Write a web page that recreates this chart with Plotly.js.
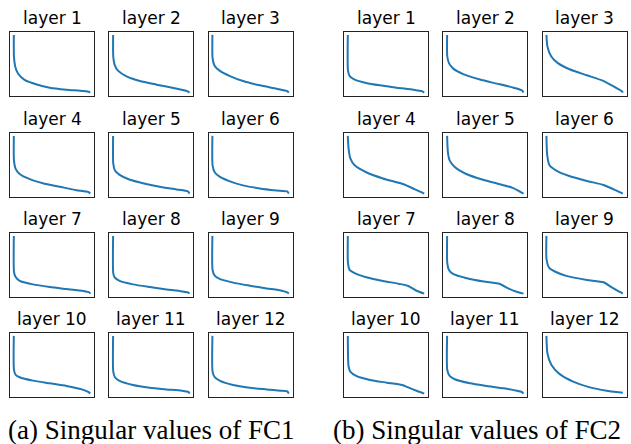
<!DOCTYPE html>
<html>
<head>
<meta charset="utf-8">
<script src="https://cdn.plot.ly/plotly-3.0.1.min.js"></script>
<style>
html,body{margin:0;padding:0;background:#fff;}
#chart{width:631px;height:444px;}
</style>
</head>
<body>
<div id="chart"></div>
<script>
// Normalised singular-value curves (index fraction, value fraction).
const layerNames = ["layer 1","layer 2","layer 3","layer 4","layer 5","layer 6","layer 7","layer 8","layer 9","layer 10","layer 11","layer 12"];
const captions = ["(a) Singular values of FC1", "(b) Singular values of FC2"];

// FC1
const fc1_l1_x = [0,0.002,0.019,0.055,0.14,0.30,0.47,0.69,0.91,0.99,1];
const fc1_l1_y = [1,0.62,0.45,0.33,0.22,0.14,0.085,0.05,0.026,0.009,0];
const fc1_l2_x = [0,0.002,0.02,0.064,0.17,0.35,0.57,0.79,0.97,1];
const fc1_l2_y = [1,0.62,0.48,0.38,0.285,0.20,0.138,0.08,0.026,0];
const fc1_l3_x = [0,0.002,0.03,0.094,0.23,0.40,0.62,0.84,0.98,1];
const fc1_l3_y = [1,0.60,0.46,0.38,0.285,0.20,0.126,0.068,0.026,0];
const fc1_l4_x = [0,0.002,0.024,0.076,0.21,0.38,0.60,0.82,0.98,1];
const fc1_l4_y = [1,0.575,0.43,0.34,0.25,0.18,0.12,0.06,0.026,0];
const fc1_l5_x = [0,0.002,0.024,0.085,0.22,0.39,0.61,0.83,0.98,1];
const fc1_l5_y = [1,0.52,0.40,0.325,0.24,0.18,0.12,0.073,0.038,0];
const fc1_l6_x = [0,0.002,0.03,0.094,0.23,0.40,0.62,0.84,0.98,1];
const fc1_l6_y = [1,0.49,0.37,0.295,0.213,0.143,0.09,0.055,0.038,0];
const fc1_l7_x = [0,0.002,0.02,0.076,0.25,0.47,0.69,0.91,0.99,1];
const fc1_l7_y = [1,0.38,0.295,0.22,0.16,0.114,0.079,0.044,0.02,0];
const fc1_l8_x = [0,0.002,0.02,0.085,0.26,0.48,0.70,0.90,0.99,1];
const fc1_l8_y = [1,0.35,0.28,0.22,0.16,0.114,0.073,0.038,0.015,0];
const fc1_l9_x = [0,0.002,0.03,0.094,0.27,0.49,0.71,0.91,0.98,1];
const fc1_l9_y = [1,0.41,0.31,0.254,0.19,0.137,0.09,0.05,0.02,0];
const fc1_l10_x = [0,0.002,0.024,0.076,0.25,0.47,0.69,0.89,0.98,1];
const fc1_l10_y = [1,0.41,0.325,0.284,0.225,0.178,0.132,0.073,0.026,0];
const fc1_l11_x = [0,0.002,0.024,0.085,0.26,0.48,0.70,0.90,0.99,1];
const fc1_l11_y = [1,0.38,0.284,0.22,0.149,0.102,0.073,0.05,0.026,0];
const fc1_l12_x = [0,0.002,0.03,0.094,0.27,0.49,0.71,0.89,0.98,1];
const fc1_l12_y = [1,0.38,0.284,0.225,0.149,0.102,0.073,0.05,0.038,0];

// FC2
const fc2_l1_x = [0,0.002,0.024,0.09,0.24,0.42,0.64,0.86,0.97,1];
const fc2_l1_y = [1,0.39,0.285,0.226,0.168,0.126,0.085,0.05,0.026,0];
const fc2_l2_x = [0,0.002,0.024,0.077,0.21,0.43,0.65,0.87,0.98,1];
const fc2_l2_y = [1,0.63,0.51,0.42,0.32,0.226,0.156,0.085,0.038,0];
const fc2_l3_x = [0,0.013,0.064,0.15,0.31,0.53,0.75,0.88,0.99,1];
const fc2_l3_y = [1,0.80,0.626,0.51,0.40,0.30,0.20,0.108,0.02,0];
const fc2_l4_x = [0,0.01,0.033,0.09,0.24,0.46,0.73,0.88,0.97,1];
const fc2_l4_y = [1,0.78,0.61,0.49,0.37,0.263,0.163,0.074,0.02,0];
const fc2_l5_x = [0,0.01,0.033,0.10,0.25,0.47,0.69,0.85,0.96,1];
const fc2_l5_y = [1,0.72,0.577,0.46,0.34,0.24,0.163,0.104,0.03,0];
const fc2_l6_x = [0,0.01,0.04,0.13,0.29,0.53,0.75,0.88,0.97,1];
const fc2_l6_y = [1,0.67,0.49,0.40,0.31,0.22,0.15,0.074,0.02,0];
const fc2_l7_x = [0,0.002,0.024,0.09,0.24,0.46,0.68,0.79,0.90,1];
const fc2_l7_y = [1,0.53,0.41,0.354,0.284,0.22,0.167,0.132,0.05,0];
const fc2_l8_x = [0,0.002,0.024,0.077,0.26,0.48,0.69,0.80,0.91,1];
const fc2_l8_y = [1,0.53,0.41,0.342,0.266,0.208,0.167,0.091,0.032,0];
const fc2_l9_x = [0,0.002,0.04,0.11,0.26,0.53,0.75,0.84,0.93,1];
const fc2_l9_y = [1,0.59,0.44,0.383,0.307,0.237,0.196,0.12,0.05,0];
const fc2_l10_x = [0,0.01,0.033,0.11,0.29,0.51,0.71,0.79,0.90,1];
const fc2_l10_y = [1,0.47,0.38,0.307,0.237,0.19,0.149,0.108,0.05,0];
const fc2_l11_x = [0,0.002,0.033,0.10,0.30,0.52,0.74,0.91,0.98,1];
const fc2_l11_y = [1,0.41,0.307,0.249,0.178,0.132,0.091,0.05,0.026,0];
const fc2_l12_x = [0,0.013,0.064,0.17,0.35,0.57,0.79,0.92,1];
const fc2_l12_y = [1,0.70,0.50,0.342,0.208,0.108,0.05,0.026,0.015];

const fc1X = [fc1_l1_x,fc1_l2_x,fc1_l3_x,fc1_l4_x,fc1_l5_x,fc1_l6_x,fc1_l7_x,fc1_l8_x,fc1_l9_x,fc1_l10_x,fc1_l11_x,fc1_l12_x];
const fc1Y = [fc1_l1_y,fc1_l2_y,fc1_l3_y,fc1_l4_y,fc1_l5_y,fc1_l6_y,fc1_l7_y,fc1_l8_y,fc1_l9_y,fc1_l10_y,fc1_l11_y,fc1_l12_y];
const fc2X = [fc2_l1_x,fc2_l2_x,fc2_l3_x,fc2_l4_x,fc2_l5_x,fc2_l6_x,fc2_l7_x,fc2_l8_x,fc2_l9_x,fc2_l10_x,fc2_l11_x,fc2_l12_x];
const fc2Y = [fc2_l1_y,fc2_l2_y,fc2_l3_y,fc2_l4_y,fc2_l5_y,fc2_l6_y,fc2_l7_y,fc2_l8_y,fc2_l9_y,fc2_l10_y,fc2_l11_y,fc2_l12_y];

const W = 631, H = 444;
const groupLeft = [10, 344];
const colStep = 99.3, boxW = 84;
const rowTop = [32, 133, 233, 333];
const boxH = 63.5;
const captionX = [151, 477];

const traces = [];
const layout = {
  width: W, height: H,
  margin: {l:0, r:0, t:0, b:0},
  paper_bgcolor: '#fff', plot_bgcolor: '#fff',
  showlegend: false,
  annotations: []
};

let n = 0;
[[fc1X, fc1Y],[fc2X, fc2Y]].forEach(([XS, YS], g) => {
  for (let i = 0; i < 12; i++) {
    n++;
    const r = Math.floor(i / 3), c = i % 3;
    const x0 = groupLeft[g] + c * colStep;
    const y0 = rowTop[r];
    const xa = 'xaxis' + (n === 1 ? '' : n), ya = 'yaxis' + (n === 1 ? '' : n);
    const xr = 'x' + (n === 1 ? '' : n), yr = 'y' + (n === 1 ? '' : n);
    traces.push({
      type: 'scatter', mode: 'lines',
      x: XS[i], y: YS[i],
      xaxis: xr, yaxis: yr,
      line: {color: '#1f77b4', width: 2, shape: 'spline', smoothing: 0.6},
      hoverinfo: 'skip'
    });
    const axCommon = {
      range: [-0.05, 1.05], showgrid: false, zeroline: false,
      showticklabels: false, ticks: '', showline: true, mirror: true,
      linecolor: '#222', linewidth: 1, fixedrange: true
    };
    layout[xa] = Object.assign({}, axCommon, {domain: [x0 / W, (x0 + boxW) / W], anchor: yr});
    layout[ya] = Object.assign({}, axCommon, {domain: [1 - (y0 + boxH) / H, 1 - y0 / H], anchor: xr});
    layout.annotations.push({
      text: layerNames[i], xref: 'paper', yref: 'paper',
      x: (x0 + boxW / 2) / W, y: 1 - y0 / H,
      xanchor: 'center', yanchor: 'bottom', yshift: 2, showarrow: false,
      font: {family: 'DejaVu Sans', size: 17, color: '#000'}
    });
  }
  layout.annotations.push({
    text: captions[g], xref: 'paper', yref: 'paper',
    x: captionX[g] / W, y: 1 - 444 / H,
    xanchor: 'center', yanchor: 'bottom', yshift: -3, showarrow: false,
    font: {family: 'Liberation Serif', size: 27, color: '#000'}
  });
});

Plotly.newPlot('chart', traces, layout, {staticPlot: true, displayModeBar: false});
</script>
</body>
</html>
